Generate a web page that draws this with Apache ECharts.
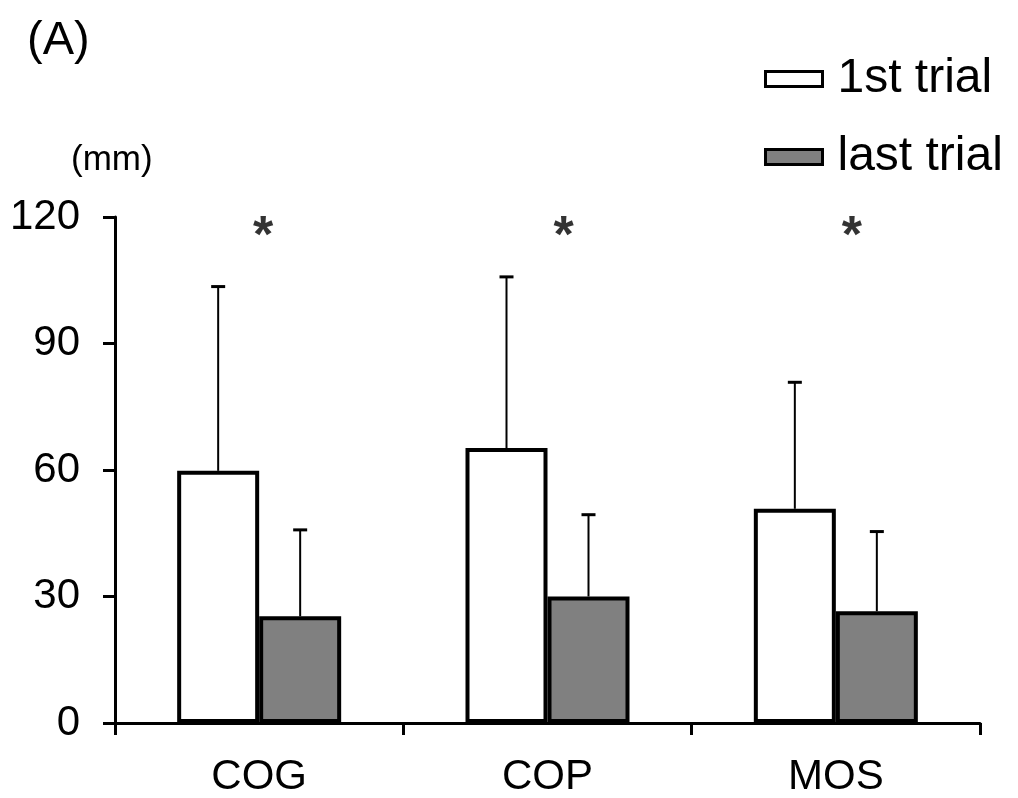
<!DOCTYPE html>
<html>
<head>
<meta charset="utf-8">
<script src="https://cdn.jsdelivr.net/npm/echarts@6/dist/echarts.min.js"></script>
<style>
  html, body { margin: 0; padding: 0; background: #fff; }
  #chart { width: 1018px; height: 798px; }
</style>
</head>
<body>
<div id="chart"></div>
<script>
const categories = ['COG', 'COP', 'MOS']
const firstTrial = [59.8, 65.2, 50.8]
const lastTrial = [25.3, 30.0, 26.5]
// upper error (SD) added on top of each mean
const firstTrialSD = [43.7, 40.6, 30.0]
const lastTrialSD = [20.5, 19.4, 18.9]
const yTicks = [0, 30, 60, 90, 120]
const sigLevel = [115, 115, 115]
const sigText = ['*', '*', '*']
const sigShift = [4, 16, 16]

const FONT = '"Liberation Sans", Arial, sans-serif'
const BAR_W = 82

const chart = echarts.init(document.getElementById('chart'))

function errorSeries(name, means, sds, side) {
  return {
    name: name + ' SD',
    type: 'custom',
    z: 3,
    data: means.map((m, i) => [i, m, m + sds[i]]),
    renderItem: function(params, api) {
      const base = api.coord([api.value(0), api.value(1)])
      const top = api.coord([api.value(0), api.value(2)])
      const x = base[0] + side * BAR_W / 2
      const cap = 7
      return {
        type: 'group',
        children: [
          {
            type: 'line',
            shape: { x1: x, y1: base[1], x2: x, y2: top[1] },
            style: { stroke: '#000', lineWidth: 2 }
          },
          {
            type: 'line',
            shape: { x1: x - cap, y1: top[1], x2: x + cap, y2: top[1] },
            style: { stroke: '#000', lineWidth: 3 }
          }
        ]
      }
    }
  }
}

chart.setOption({
  animation: false,
  textStyle: { fontFamily: FONT, color: '#000' },
  grid: {
    left: 115,
    right: 38,
    top: 217,
    bottom: 73
  },
  legend: {
    orient: 'vertical',
    left: 759,
    top: 50,
    itemWidth: 57,
    itemHeight: 15,
    itemGap: 30,
    icon: 'rect',
    selectedMode: false,
    textStyle: {
      fontFamily: FONT,
      fontSize: 48,
      color: '#000',
      padding: [0, 0, 0, 10]
    },
    data: [
      { name: '1st trial', itemStyle: { color: '#fff', borderColor: '#000', borderWidth: 3 } },
      { name: 'last trial', itemStyle: { color: '#808080', borderColor: '#000', borderWidth: 3 } }
    ]
  },
  graphic: [
    {
      type: 'text',
      left: 27,
      top: 18,
      style: { text: '(A)', font: '47px ' + FONT, fill: '#000' }
    },
    {
      type: 'text',
      left: 71,
      top: 143,
      style: { text: '(mm)', font: '35px ' + FONT, fill: '#000' }
    }
  ],
  xAxis: {
    type: 'category',
    data: categories,
    axisLine: { show: true, lineStyle: { color: '#000', width: 3 } },
    axisTick: { show: true, length: 12, lineStyle: { color: '#000', width: 3 } },
    axisLabel: { fontSize: 42, color: '#000', margin: 33, fontFamily: FONT },
    splitLine: { show: false }
  },
  yAxis: {
    type: 'value',
    min: yTicks[0],
    max: yTicks[yTicks.length - 1],
    interval: yTicks[1] - yTicks[0],
    axisLine: { show: true, lineStyle: { color: '#000', width: 3 } },
    axisTick: { show: true, length: 12, lineStyle: { color: '#000', width: 3 } },
    axisLabel: { fontSize: 42, color: '#000', margin: 35, fontFamily: FONT },
    splitLine: { show: false }
  },
  series: [
    {
      name: '1st trial',
      type: 'bar',
      barWidth: BAR_W,
      barGap: '0%',
      z: 2,
      itemStyle: { color: '#fff', borderColor: '#000', borderWidth: 4 },
      data: firstTrial
    },
    {
      name: 'last trial',
      type: 'bar',
      barWidth: BAR_W,
      barGap: '0%',
      z: 2,
      itemStyle: { color: '#808080', borderColor: '#000', borderWidth: 4 },
      data: lastTrial
    },
    errorSeries('1st trial', firstTrial, firstTrialSD, -1),
    errorSeries('last trial', lastTrial, lastTrialSD, 1),
    {
      name: 'sig',
      type: 'scatter',
      symbolSize: 0,
      silent: true,
      data: sigLevel.map((v, i) => ({
        value: [i, v],
        label: { offset: [sigShift[i], 0] }
      })),
      label: {
        show: true,
        position: 'inside',
        formatter: (p) => sigText[p.dataIndex],
        fontSize: 52,
        fontWeight: 'bold',
        fontFamily: FONT,
        color: '#000'
      }
    }
  ]
})
</script>
</body>
</html>
